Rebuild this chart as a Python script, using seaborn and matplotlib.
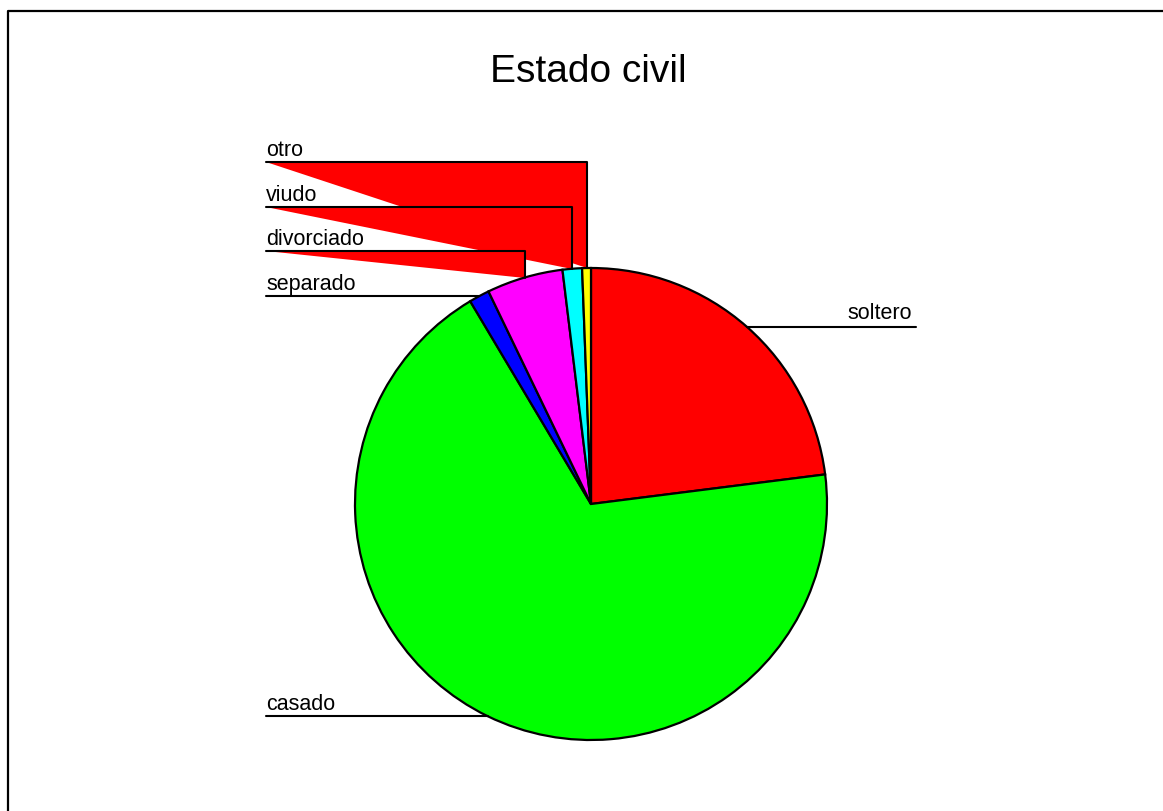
import seaborn as sns
import matplotlib.pyplot as plt
import numpy as np

# Estado civil (porcentajes)
categorias = ["soltero", "casado", "separado", "divorciado", "viudo", "otro"]
porcentajes = [23.0, 68.45, 1.4, 5.22, 1.33, 0.6]
colores = ["#FF0000", "#00FF00", "#0000FF", "#FF00FF", "#00FFFF", "#FFFF00"]
titulo = "Estado civil"

sns.set_style("white")
plt.rcParams["font.family"] = ["Liberation Sans", "DejaVu Sans"]
plt.rcParams["text.color"] = "black"

W, H = 1163, 812
fig = plt.figure(figsize=(W / 100, H / 100), dpi=100)
ax = fig.add_axes([0, 0, 1, 1])

# pie in pixel-like coords (y up)
cx, cy, r = 591, 307, 236
wedges, _ = ax.pie(porcentajes, colors=colores, startangle=90, counterclock=False,
                   center=(cx, cy), radius=r,
                   wedgeprops=dict(edgecolor="black", linewidth=1.6, zorder=2))

ax.set_xlim(0, W)
ax.set_ylim(0, H)
ax.set_aspect("equal")
ax.axis("off")

# leader lines
x_left, x_right = cx - 325, cx + 325
gap = 44.7
prev_y = None
for w, lab in zip(wedges, categorias):
    ang = np.deg2rad((w.theta1 + w.theta2) / 2)
    mx, my = cx + r * np.cos(ang), cy + r * np.sin(ang)
    if mx >= cx:
        ax.plot([mx, x_right], [my, my], color="black", lw=1.5, zorder=3)
        ax.text(x_right - 4, my + 9, lab, ha="right", va="baseline", fontsize=15.5)
        continue
    ly = my
    if my > cy:
        if prev_y is not None:
            ly = max(my, prev_y + gap)
        prev_y = ly
    # the source program fills the leader polyline
    ax.fill([x_left, mx, mx], [ly, ly, my], color="#FF0000", lw=0, zorder=1)
    ax.plot([x_left, mx, mx], [ly, ly, my], color="black", lw=1.5, zorder=3)
    ax.text(x_left, ly + 7, lab, ha="left", va="baseline", fontsize=15.5, zorder=4)

ax.text(588, H - 82, titulo, ha="center", va="baseline", fontsize=28)

# outer frame
ax.plot([8, 8, W], [0, H - 12, H - 12], color="black", lw=1.6, clip_on=False)

fig.savefig("out.png", dpi=100)
